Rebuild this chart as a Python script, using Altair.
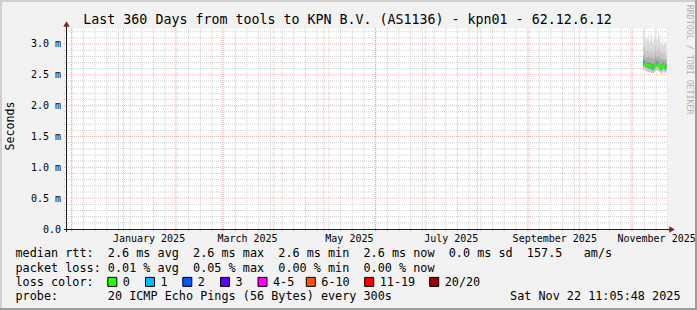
import altair as alt
import pandas as pd

# ---------------- data ----------------
TITLE = "Last 360 Days from tools to KPN B.V. (AS1136) - kpn01 - 62.12.6.12"
Y_TITLE = "Seconds"
WATERMARK = "RRDTOOL / TOBI OETIKER"

y_tick_values = [0.0, 0.5, 1.0, 1.5, 2.0, 2.5, 3.0]
x_label_dates = ["2025-01-16", "2025-03-16", "2025-05-16", "2025-07-16", "2025-09-16", "2025-11-16"]

first_column = "2025-11-08T06:00:00Z"
column_hours = 12

ping_max = [3.22, 3.24, 3.10, 3.05, 3.12, 3.08, 3.15, 3.02, 3.06, 3.18, 3.08, 3.00, 3.04, 3.12,
            3.25, 3.10, 3.04, 3.08, 3.22, 3.14, 3.05, 3.00, 3.02, 3.10, 2.98, 3.02, 3.05, 2.98]
ping_p90 = [2.95, 2.98, 2.90, 2.88, 2.92, 2.90, 2.93, 2.86, 2.88, 2.94, 2.90, 2.85, 2.87, 2.91,
            2.97, 2.92, 2.87, 2.90, 2.96, 2.93, 2.88, 2.85, 2.86, 2.90, 2.84, 2.86, 2.88, 2.84]
ping_p75 = [2.80, 2.82, 2.78, 2.77, 2.79, 2.78, 2.80, 2.76, 2.77, 2.80, 2.78, 2.75, 2.76, 2.78,
            2.82, 2.80, 2.77, 2.78, 2.81, 2.79, 2.76, 2.75, 2.75, 2.78, 2.74, 2.75, 2.76, 2.74]
ping_p60 = [2.74, 2.74, 2.72, 2.71, 2.71, 2.70, 2.70, 2.70, 2.69, 2.69, 2.68, 2.67, 2.67, 2.68,
            2.70, 2.72, 2.73, 2.73, 2.71, 2.69, 2.67, 2.66, 2.67, 2.69, 2.70, 2.68, 2.67, 2.69]
median_rtt = [2.69, 2.69, 2.67, 2.66, 2.66, 2.65, 2.64, 2.65, 2.64, 2.63, 2.62, 2.61, 2.62, 2.63,
              2.65, 2.67, 2.68, 2.68, 2.66, 2.64, 2.62, 2.61, 2.62, 2.64, 2.65, 2.63, 2.62, 2.64]
ping_p40 = [2.64, 2.65, 2.63, 2.62, 2.62, 2.61, 2.60, 2.61, 2.60, 2.59, 2.58, 2.58, 2.58, 2.59,
            2.61, 2.63, 2.64, 2.64, 2.62, 2.60, 2.58, 2.58, 2.58, 2.60, 2.61, 2.59, 2.58, 2.60]
ping_min = [2.58, 2.59, 2.57, 2.56, 2.56, 2.55, 2.55, 2.55, 2.54, 2.54, 2.53, 2.53, 2.53, 2.54,
            2.56, 2.57, 2.58, 2.58, 2.56, 2.55, 2.53, 2.52, 2.53, 2.55, 2.56, 2.54, 2.53, 2.55]
loss_count = [1, 1, 0, 0, 0, 0, 0, 0, 0, 0, 1, 1, 0, 0, 0, 0, 1, 0, 0, 0, 0, 0, 0, 0, 0, 0, 1, 1]

loss_labels = ["0", "1", "2", "3", "4-5", "6-10", "11-19", "20/20"]
loss_colors = ["#26ff00", "#00b8ff", "#0059ff", "#5e00ff", "#ff00ff", "#ff5500", "#ff0000", "#a10000"]

legend_lines = [
    "median rtt:  2.6 ms avg  2.6 ms max  2.6 ms min  2.6 ms now  0.0 ms sd  157.5   am/s",
    "packet loss: 0.01 % avg  0.05 % max  0.00 % min  0.00 % now",
    "loss color:",
    "probe:       20 ICMP Echo Pings (56 Bytes) every 300s",
]
stamp = "Sat Nov 22 11:05:48 2025"

# ---------------- layout / style ----------------
FONT = "DejaVu Sans Mono"
W, H = 697, 310
PL, PT = 67, 28          # plot origin in the page
PW, PH = 601, 201        # plot area size
Y_MAX = 3.2593
X_START = "2024-11-28T04:00:00Z"
X_END = "2025-11-23T03:00:00Z"
legend_box_centers = [112.3, 150.0, 187.3, 225.0, 262.5, 310.8, 369.2, 434.2]
legend_baselines = [257.3, 271.6, 285.9, 300.2]


def ms(s):
    return int(pd.Timestamp(s).value // 10**6)


def nb(s):
    return s.replace(" ", "\u00a0")


step_ms = column_hours * 3600 * 1000
n = len(median_rtt)
col_t = [ms(first_column) + i * step_ms for i in range(n + 1)]

smoke = pd.DataFrame({
    "t": col_t,
    "mn": ping_min + ping_min[-1:],
    "p40": ping_p40 + ping_p40[-1:],
    "med": median_rtt + median_rtt[-1:],
    "p60": ping_p60 + ping_p60[-1:],
    "p75": ping_p75 + ping_p75[-1:],
    "p90": ping_p90 + ping_p90[-1:],
    "mx": ping_max + ping_max[-1:],
})
lossy = pd.DataFrame({
    "t": col_t[:-1], "t2": col_t[1:], "med": median_rtt, "loss": loss_count,
})
lossy = lossy[lossy["loss"] > 0]

month_starts = pd.DataFrame({"t": [ms(d) for d in pd.date_range("2024-12-01", "2025-11-01", freq="MS")]})
sundays = pd.DataFrame({"t": [ms(d) for d in pd.date_range("2024-12-01", "2025-11-23", freq="W-SUN")]})
minor_y = pd.DataFrame({"v": [round(i * 0.1, 1) for i in range(1, 33) if i % 5 != 0]})
major_y = pd.DataFrame({"v": [v for v in y_tick_values if v > 0]})

xscale = alt.Scale(type="utc", domain=[ms(X_START), ms(X_END)], nice=False)
xaxis = alt.Axis(values=[ms(d) for d in x_label_dates],
                 labelExpr="utcFormat(datum.value, '%B %Y')",
                 ticks=False, tickSize=0, domain=False, grid=False, title=None,
                 labelFont=FONT, labelFontSize=10, labelColor="#000000",
                 labelPadding=4.5, labelFlush=False, labelOverlap=False)
yscale = alt.Scale(domain=[0, Y_MAX], nice=False, zero=True)
yaxis = alt.Axis(values=y_tick_values,
                 labelExpr="datum.value == 0 ? '0.0\u00a0\u00a0' : format(datum.value, '.1f') + '\u00a0m'",
                 ticks=False, tickSize=0, domain=False, grid=False, title=None,
                 labelFont=FONT, labelFontSize=10, labelColor="#000000", labelPadding=6.5)


def X(f):
    return alt.X(f, type="temporal", scale=xscale, axis=xaxis)


def Y(f):
    return alt.Y(f, type="quantitative", scale=yscale, axis=yaxis)


one = pd.DataFrame({"a": [0]})
layers = []

# frame shading
for (x1, x2, y1, y2, c) in [
    (-PL, W - PL, -PT + 1, None, "#cfcfcf"),
    (-PL + 1, None, -PT, H - PT, "#cfcfcf"),
    (-PL, W - PL, H - PT - 1, None, "#9e9e9e"),
    (W - PL - 1, None, -PT, H - PT, "#9e9e9e"),
]:
    enc = {"x": alt.value(x1), "y": alt.value(y1)}
    if x2 is not None:
        enc["x2"] = alt.value(x2)
    if y2 is not None:
        enc["y2"] = alt.value(y2)
    layers.append(alt.Chart(one).mark_rule(color=c, strokeWidth=2).encode(**enc))

# grid
layers.append(alt.Chart(minor_y).mark_rule(color="#a0a0a0", opacity=0.5, strokeDash=[1, 1]).encode(
    y=Y("v"), x=alt.value(-3), x2=alt.value(PW)))
layers.append(alt.Chart(sundays).mark_rule(color="#a0a0a0", opacity=0.5, strokeDash=[1, 1]).encode(
    x=X("t"), y=alt.value(0), y2=alt.value(PH + 2)))
layers.append(alt.Chart(major_y).mark_rule(color="#de4f4f", opacity=0.42, strokeDash=[1, 1]).encode(
    y=Y("v"), x=alt.value(-3), x2=alt.value(PW)))
layers.append(alt.Chart(month_starts).mark_rule(color="#de4f4f", opacity=0.42, strokeDash=[1, 1]).encode(
    x=X("t"), y=alt.value(0), y2=alt.value(PH + 3)))

# smoke
for lo, hi, col in [("mn", "mx", "#dcdcdc"), ("mn", "p90", "#c8c8c8"),
                    ("p40", "p75", "#acacac"), ("p40", "p60", "#8f8f8f")]:
    layers.append(alt.Chart(smoke).mark_area(interpolate="step-after", color=col, opacity=1).encode(
        x=X("t"), y=Y(lo), y2=alt.Y2(hi)))

# median line coloured by loss
layers.append(alt.Chart(smoke).mark_line(interpolate="step-after", color=loss_colors[0], strokeWidth=2).encode(
    x=X("t"), y=Y("med")))
layers.append(alt.Chart(lossy).mark_rule(strokeWidth=2).encode(
    x=X("t"), x2=alt.X2("t2"), y=Y("med"),
    color=alt.Color("loss:O", scale=alt.Scale(domain=list(range(len(loss_colors))), range=loss_colors), legend=None)))

# axes lines and arrows
layers.append(alt.Chart(one).mark_rule(color="#1f1f1f", strokeWidth=1).encode(
    x=alt.value(-0.5), y=alt.value(-5), y2=alt.value(PH + 3)))
layers.append(alt.Chart(one).mark_rule(color="#1f1f1f", strokeWidth=1).encode(
    y=alt.value(PH + 0.5), x=alt.value(-3), x2=alt.value(PW + 3)))
layers.append(alt.Chart(one).mark_point(shape="triangle-up", filled=True, color="#801f1f", size=40, opacity=1).encode(
    x=alt.value(-0.5), y=alt.value(-4)))
layers.append(alt.Chart(one).mark_point(shape="triangle-right", filled=True, color="#801f1f", size=40, opacity=1).encode(
    x=alt.value(PW + 4), y=alt.value(PH + 0.5)))

# title, unit label, watermark
layers.append(alt.Chart(one).mark_text(text=nb(TITLE), font=FONT, fontSize=13.3, color="#000000",
                                       align="center", baseline="alphabetic").encode(
    x=alt.value(347.5 - PL), y=alt.value(24 - PT)))
layers.append(alt.Chart(one).mark_text(text=Y_TITLE, font=FONT, fontSize=11.6, color="#000000",
                                       align="center", baseline="middle", angle=270).encode(
    x=alt.value(10.5 - PL), y=alt.value(126 - PT)))
layers.append(alt.Chart(one).mark_text(text=nb(WATERMARK), font=FONT, fontSize=8.3, color="#b0b0b0",
                                       align="left", baseline="middle", angle=90).encode(
    x=alt.value(688.5 - PL), y=alt.value(4.7 - PT)))

# legend text lines
for line, base in zip(legend_lines, legend_baselines):
    layers.append(alt.Chart(one).mark_text(text=nb(line), font=FONT, fontSize=11.8, color="#000000",
                                           align="left", baseline="alphabetic").encode(
        x=alt.value(15.5 - PL), y=alt.value(base - PT)))
layers.append(alt.Chart(one).mark_text(text=nb(stamp), font=FONT, fontSize=11.8, color="#000000",
                                       align="right", baseline="alphabetic").encode(
    x=alt.value(680.5 - PL), y=alt.value(legend_baselines[3] - PT)))

# loss colour boxes
boxes = pd.DataFrame({
    "label": loss_labels,
    "color": loss_colors,
    "x0": [c - 4.5 - PL for c in legend_box_centers],
    "x1": [c + 4.5 - PL for c in legend_box_centers],
    "tx": [c + 10.5 - PL for c in legend_box_centers],
})
layers.append(alt.Chart(boxes).mark_rect(stroke="#000000", strokeWidth=1).encode(
    x=alt.X("x0:Q", scale=None, axis=None), x2="x1",
    y=alt.value(legend_baselines[2] - PT - 8.5), y2=alt.value(legend_baselines[2] - PT + 0.5),
    fill=alt.Fill("color:N", scale=None)))
layers.append(alt.Chart(boxes).mark_text(font=FONT, fontSize=11.8, color="#000000",
                                         align="left", baseline="alphabetic").encode(
    x=alt.X("tx:Q", scale=None, axis=None), y=alt.value(legend_baselines[2] - PT),
    text="label:N"))

chart = alt.layer(*layers).properties(
    width=PW, height=PH,
    padding={"left": PL, "top": PT, "right": W - PL - PW, "bottom": H - PT - PH},
    autosize=alt.AutoSizeParams(type="none"),
    background="#f2f2f2",
).configure_view(fill="#ffffff", strokeOpacity=0)

chart.save("out.html", embed_options={"renderer": "svg", "actions": False})
